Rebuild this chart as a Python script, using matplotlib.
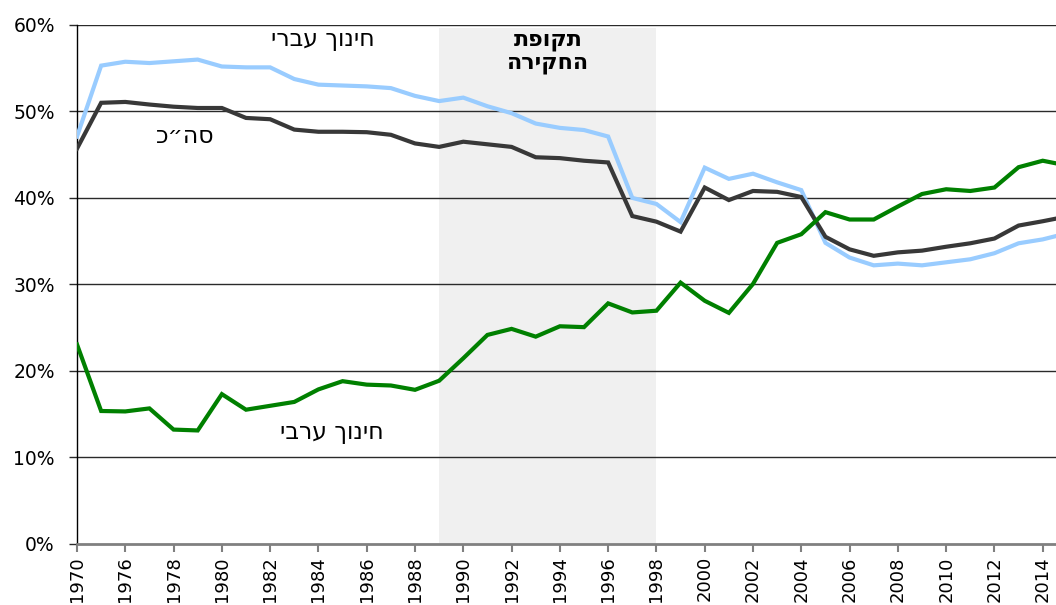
import matplotlib.pyplot as plt
import numpy as np

# years on a category axis (second point is unlabeled in the source)
years = [1970, 1975] + list(range(1976, 2016))

hebrew = [47.1, 55.3, 55.75, 55.6, 55.8, 56.0, 55.2, 55.1, 55.1, 53.75,
          53.1, 53.0, 52.9, 52.7, 51.8, 51.2, 51.6, 50.6, 49.8, 48.6,
          48.1, 47.85, 47.1, 40.0, 39.3, 37.2, 43.5, 42.2, 42.8, 41.8,
          40.9, 34.8, 33.1, 32.2, 32.4, 32.2, 32.55, 32.9, 33.6, 34.75,
          35.2, 35.9]
total = [45.7, 51.0, 51.1, 50.8, 50.55, 50.4, 50.4, 49.25, 49.1, 47.9,
         47.65, 47.65, 47.6, 47.3, 46.3, 45.9, 46.5, 46.2, 45.9, 44.7,
         44.6, 44.3, 44.1, 37.9, 37.25, 36.1, 41.2, 39.75, 40.8, 40.7,
         40.1, 35.5, 34.05, 33.3, 33.7, 33.9, 34.35, 34.75, 35.3, 36.8,
         37.3, 37.85]
arab = [23.05, 15.35, 15.3, 15.65, 13.2, 13.1, 17.3, 15.5, 15.95, 16.4,
        17.85, 18.8, 18.4, 18.3, 17.8, 18.85, 21.45, 24.15, 24.85, 23.95,
        25.15, 25.05, 27.8, 26.75, 26.95, 30.2, 28.1, 26.7, 30.05, 34.8,
        35.8, 38.35, 37.5, 37.5, 39.0, 40.45, 41.0, 40.8, 41.2, 43.55,
        44.3, 43.75]

study_start, study_end = 1989, 1998

lbl_hebrew = "חינוך עברי"
lbl_total = "סה״כ"
lbl_arab = "חינוך ערבי"
lbl_study = "תקופת\nהחקירה"


def rtl(s):
    # matplotlib has no bidi support, so flip each line by hand
    return "\n".join(line[::-1] for line in s.split("\n"))


x = np.arange(len(years))
i0 = years.index(study_start)
i1 = years.index(study_end)

fig = plt.figure(figsize=(10.56, 6.05), dpi=100)
ax = fig.add_axes([77 / 1056, 1 - 543.7 / 605, 1 - 77 / 1056, (543.7 - 25) / 605])

ax.axvspan(x[i0], x[i1], ymin=0, ymax=0.994, color='#f0f0f0', zorder=0, lw=0)

ax.set_ylim(0, 60)
ax.set_xlim(0, 40.55)
for v in range(10, 61, 10):
    ax.axhline(v, color='#2a2a2a', lw=1, zorder=1)

ax.plot(x, hebrew, color='#99ccff', lw=3, zorder=3, solid_joinstyle='miter')
ax.plot(x, total, color='#383838', lw=3, zorder=4, solid_joinstyle='miter')
ax.plot(x, arab, color='#008000', lw=3, zorder=5, solid_joinstyle='miter')

ax.set_yticks(range(0, 61, 10))
ax.set_yticklabels([f"{v}%" for v in range(0, 61, 10)], fontsize=13.5)
ax.set_xticks(x[::2])
ax.set_xticklabels([str(years[i]) for i in x[::2]], rotation=90, fontsize=13)
ax.tick_params(axis='y', length=6, width=1, color='#2a2a2a', pad=10)
ax.tick_params(axis='x', length=6, width=1.5, color='#808080', pad=3)

for s in ['top', 'right']:
    ax.spines[s].set_visible(False)
ax.spines['bottom'].set_color('#808080')
ax.spines['bottom'].set_linewidth(2)
ax.spines['left'].set_color('black')
ax.spines['left'].set_linewidth(1)

ax.text(10.17, 58.4, rtl(lbl_hebrew), fontsize=17, ha='center', va='center', family='DejaVu Sans')
ax.text(4.47, 47.2, rtl(lbl_total), fontsize=17, ha='center', va='center', family='DejaVu Sans')
ax.text(10.54, 12.9, rtl(lbl_arab), fontsize=17, ha='center', va='center', family='DejaVu Sans')
ax.text((x[i0] + x[i1]) / 2, 56.8, rtl(lbl_study), fontsize=16, fontweight='bold',
        ha='center', va='center', linespacing=1.1, family='DejaVu Sans')

fig.savefig('out.png', dpi=100)
